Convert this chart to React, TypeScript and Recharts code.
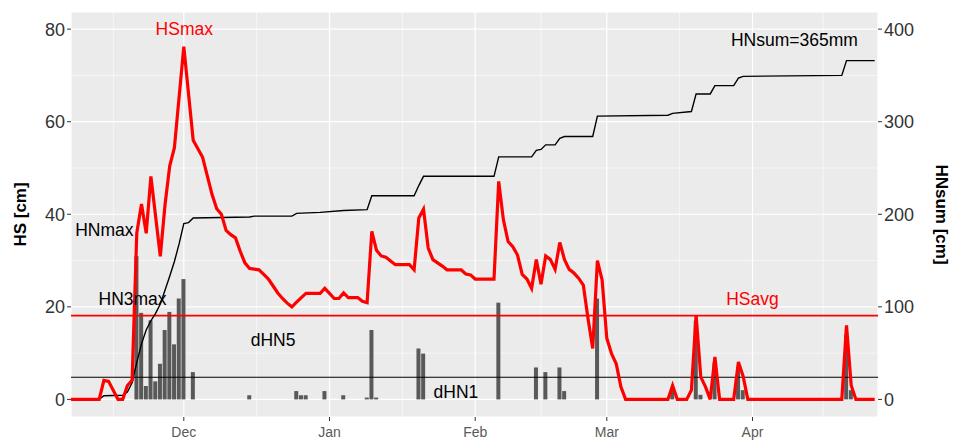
import React from 'react'
import { ComposedChart, Line, Bar, XAxis, YAxis, CartesianGrid, ReferenceLine, ReferenceDot, Label } from 'recharts'

// days are counted from 1 Nov (1 Nov = 0)
const monthDays = [30, 61, 92, 120, 151]
const monthNames = ['Dec', 'Jan', 'Feb', 'Mar', 'Apr']
const minorDays = [15, 45.5, 76.5, 106, 135.5, 166]
const hsTicks = [0, 20, 40, 60, 80]
const hsMinor = [10, 30, 50, 70]
const hnTicks = [0, 100, 200, 300, 400]

// snow height HS [cm], daily readings where the line bends
const hs: [number, number][] = [
  [6, 0], [12, 0], [13, 4.1], [14, 3.9], [16, 0], [17, 0], [18, 3], [19, 4.1], [20, 36], [21, 42.2],
  [22, 35.9], [23, 48.2], [25, 30.9], [26, 42], [27, 50.4], [28, 54.4], [30, 76.2], [32, 56], [34, 52.3],
  [35, 48.3], [36, 44.3], [37, 41.2], [38, 40], [39, 36.5], [40, 35.6], [41, 34.9], [42, 32], [43, 29.5],
  [44, 28.3], [46, 28], [47, 27], [48, 26], [49, 24.5], [50, 23], [51, 21.8], [52, 20.8], [53, 20],
  [54, 21], [55, 22], [56, 22.9], [59, 22.9], [60, 24], [61, 22.9], [62, 21.8], [63, 21.8], [64, 23],
  [65, 22], [67, 22], [68, 21.2], [69, 20.9], [70, 36.3], [71, 32.2], [72, 31], [73, 30.7], [74, 29.9],
  [75, 29.1], [78, 29.1], [79, 28], [80, 39.2], [81, 41.1], [82, 32.7], [83, 30.2], [84, 29.5], [85, 28.8],
  [86, 28], [89, 28], [90, 27.1], [91, 26.9], [92, 26], [96, 26], [97, 47.1], [98, 38.8], [99, 34.1],
  [100, 33], [101, 31.2], [102, 27], [103, 26], [104, 24], [105, 30.2], [106, 24.9], [107, 31], [108, 30.2],
  [109, 28.1], [110, 33.9], [111, 30.2], [112, 28.1], [113, 27.3], [114, 26.2], [115, 24.7], [116, 17.5],
  [117, 11], [118, 30], [119, 25.8], [120, 13.2], [121, 9.9], [122, 7.7], [123, 2.7], [124, 0], [133, 0],
  [134, 3], [135, 0], [137, 0], [138, 2], [139, 18.2], [140, 4.8], [141, 2.7], [142, 0], [143, 9.2],
  [144, 0], [147, 0], [148, 8.1], [149, 5], [150, 0], [170, 0], [171, 16], [172, 3], [173, 0], [177, 0],
]

// cumulative new snow HNsum [cm], right axis
const hnSum: [number, number][] = [
  [6, 0], [12, 0], [13, 4], [17, 4.5], [18, 8], [19, 18], [20, 40], [21, 60], [22, 75], [23, 85],
  [24, 93], [25, 103], [26, 118], [27, 133], [28, 149], [29, 168], [30, 190], [31, 191], [32, 196],
  [44, 197], [45, 198], [53, 198], [54, 201], [59, 202], [64, 204], [69, 205], [70, 220], [79, 220],
  [80, 231], [81, 241], [96, 241], [97, 262], [104, 262], [105, 269], [106, 270], [107, 275], [109, 275],
  [110, 282], [111, 284], [117, 284], [118, 306], [133, 307], [134, 309], [138, 311], [139, 330],
  [142, 330], [143, 339], [147, 339], [148, 347], [149, 349], [170, 350], [171, 366], [177, 366],
]

// daily new snow dHN [cm]
const dhn: [number, number][] = [
  [20, 31], [21, 18.7], [22, 2.9], [23, 17.1], [24, 3.9], [25, 7.7], [26, 15], [27, 18.9], [28, 11.9],
  [29, 21.8], [30, 26], [32, 5.9], [44, 0.9], [54, 1.8], [55, 0.9], [56, 0.9], [60, 1.8], [64, 0.9],
  [69, 0.4], [70, 15], [71, 0.4], [80, 11], [81, 9.9], [97, 20.9], [105, 6.9], [107, 5.9], [110, 6.9],
  [111, 1.8], [118, 21.8], [134, 2], [139, 17], [140, 1], [143, 8], [148, 7], [149, 2], [171, 14], [172, 2],
]

const hsAvg = 18.1
const dhnLine = 4.8

const notes = [
  { text: 'HSmax', day: 30.1, value: 80, color: '#FF0000' },
  { text: 'HNmax', day: 13.1, value: 36.7, color: '#000000' },
  { text: 'HN3max', day: 19.1, value: 21.7, color: '#000000' },
  { text: 'dHN5', day: 49, value: 12.8, color: '#000000' },
  { text: 'dHN1', day: 87.9, value: 1.6, color: '#000000' },
  { text: 'HSavg', day: 151, value: 21.8, color: '#FF0000' },
  { text: 'HNsum=365mm', day: 159.9, value: 77.7, color: '#000000' },
]

const allDays = Array.from(new Set([...hs, ...hnSum, ...dhn].map((p) => p[0]))).sort((a, b) => a - b)
const rows = allDays.map((day) => ({
  day,
  hs: hs.find((p) => p[0] === day)?.[1],
  hn: hnSum.find((p) => p[0] === day)?.[1],
  dhn: dhn.find((p) => p[0] === day)?.[1],
}))

const FONT = '"Liberation Sans", Arial, sans-serif'

function AxisTitle(props: any) {
  const { viewBox, value, side } = props
  const cx = side === 'left' ? viewBox.x + 20 : viewBox.x + 63
  const cy = viewBox.y + viewBox.height / 2
  return (
    <text
      x={cx}
      y={cy}
      transform={`rotate(${side === 'left' ? -90 : 90} ${cx} ${cy})`}
      textAnchor="middle"
      dominantBaseline="central"
      fontSize={17}
      fontWeight="bold"
      fill="#000"
    >
      {value}
    </text>
  )
}

export default function App() {
  return (
    <div style={{ position: 'absolute', left: 0, top: 0, fontFamily: FONT, background: '#fff' }}>
      <ComposedChart width={961} height={441} data={rows} margin={{ top: 12, right: 0, left: 0, bottom: 0 }}>
        <CartesianGrid yAxisId="left" fill="#EBEBEB" stroke="#FFFFFF" strokeWidth={1.2} />
        <CartesianGrid yAxisId="left" horizontalValues={hsMinor} verticalValues={minorDays} stroke="#FFFFFF" strokeWidth={0.6} />
        <XAxis
          dataKey="day"
          type="number"
          domain={[6, 177.7]}
          allowDataOverflow
          ticks={monthDays}
          tickFormatter={(d: number) => monthNames[monthDays.indexOf(d)]}
          height={24}
          tickSize={4}
          tickMargin={6}
          axisLine={false}
          tickLine={{ stroke: '#333' }}
          tick={{ fill: '#5a5a5a', fontSize: 14 }}
        />
        <YAxis
          yAxisId="left"
          domain={[-3.8, 83.7]}
          allowDataOverflow
          ticks={hsTicks}
          width={71}
          tickSize={4}
          tickMargin={2}
          axisLine={false}
          tickLine={{ stroke: '#333' }}
          tick={{ fill: '#333', fontSize: 18 }}
        >
          <Label content={<AxisTitle side="left" value="HS [cm]" />} />
        </YAxis>
        <YAxis
          yAxisId="right"
          orientation="right"
          domain={[-19, 418.5]}
          allowDataOverflow
          ticks={hnTicks}
          width={83}
          tickSize={4}
          tickMargin={2}
          axisLine={false}
          tickLine={{ stroke: '#333' }}
          tick={{ fill: '#333', fontSize: 18 }}
        >
          <Label content={<AxisTitle side="right" value="HNsum [cm]" />} />
        </YAxis>
        <Bar yAxisId="left" dataKey="dhn" fill="#595959" barSize={4} isAnimationActive={false} />
        <ReferenceLine yAxisId="left" y={hsAvg} stroke="#FF0000" strokeWidth={1.6} />
        <ReferenceLine yAxisId="left" y={dhnLine} stroke="#000" strokeWidth={1.1} />
        <Line yAxisId="right" dataKey="hn" type="linear" stroke="#000" strokeWidth={1.4} dot={false} connectNulls isAnimationActive={false} />
        <Line yAxisId="left" dataKey="hs" type="linear" stroke="#FF0000" strokeWidth={3.2} dot={false} connectNulls isAnimationActive={false} />
        {notes.map((n) => (
          <ReferenceDot key={n.text} yAxisId="left" x={n.day} y={n.value} r={0} fill="none" stroke="none">
            <Label value={n.text} position="center" fill={n.color} fontSize={17.5} />
          </ReferenceDot>
        ))}
      </ComposedChart>
    </div>
  )
}
